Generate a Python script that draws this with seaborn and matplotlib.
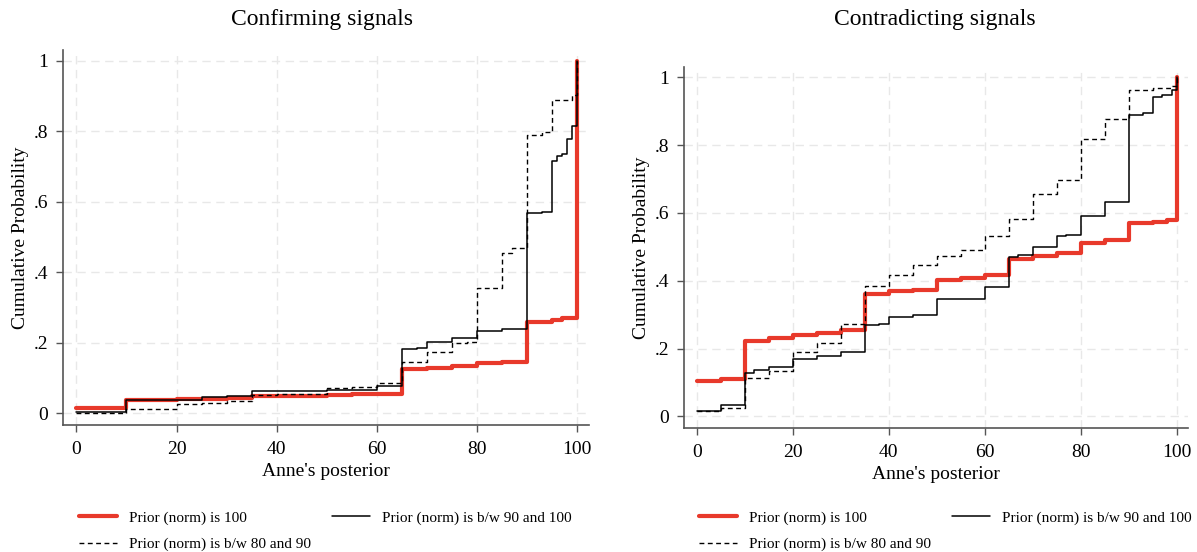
import matplotlib
matplotlib.use('Agg')
import matplotlib.pyplot as plt
import seaborn as sns
import numpy as np

# Confirming signals: step points (x where the ECDF jumps, level after the jump)
conf_x_100 = [0, 10, 20, 25, 30, 35, 50, 55, 65, 70, 75, 80, 85, 90, 95, 97, 100]
conf_y_100 = [0.016, 0.036, 0.039, 0.041, 0.043, 0.049, 0.052, 0.054, 0.124, 0.128,
              0.134, 0.141, 0.146, 0.259, 0.264, 0.269, 1.0]

conf_x_90 = [0, 10, 20, 25, 30, 35, 50, 60, 65, 68, 70, 75, 80, 85, 90, 93, 95, 96, 97, 98, 99, 100]
conf_y_90 = [0.003, 0.036, 0.038, 0.047, 0.050, 0.063, 0.067, 0.076, 0.183, 0.186, 0.203,
             0.213, 0.232, 0.240, 0.567, 0.572, 0.716, 0.730, 0.737, 0.778, 0.816, 1.0]

conf_x_80 = [0, 10, 20, 25, 30, 35, 40, 50, 55, 60, 65, 70, 75, 78, 80, 85, 87, 90, 93, 95, 99, 100]
conf_y_80 = [0.0, 0.013, 0.026, 0.030, 0.035, 0.052, 0.055, 0.071, 0.073, 0.085, 0.146,
             0.175, 0.200, 0.203, 0.354, 0.454, 0.470, 0.791, 0.797, 0.890, 0.903, 1.0]

# Contradicting signals
contr_x_100 = [0, 5, 10, 15, 20, 25, 30, 35, 40, 45, 50, 55, 60, 65, 70, 75, 80, 85, 90, 95, 98, 100]
contr_y_100 = [0.105, 0.111, 0.222, 0.231, 0.240, 0.246, 0.254, 0.360, 0.370, 0.374, 0.401,
               0.408, 0.417, 0.463, 0.473, 0.482, 0.510, 0.519, 0.571, 0.574, 0.578, 1.0]

contr_x_90 = [0, 5, 10, 12, 15, 20, 25, 30, 35, 38, 40, 45, 50, 60, 65, 67, 70, 75, 77, 80,
              85, 90, 93, 95, 97, 99, 100]
contr_y_90 = [0.017, 0.034, 0.128, 0.138, 0.146, 0.169, 0.179, 0.189, 0.269, 0.273, 0.293,
              0.298, 0.345, 0.383, 0.469, 0.475, 0.500, 0.532, 0.534, 0.591, 0.633, 0.889,
              0.894, 0.941, 0.948, 0.961, 1.0]

contr_x_80 = [0, 5, 10, 15, 20, 25, 30, 35, 40, 45, 50, 55, 60, 65, 70, 75, 80, 85, 90, 95, 99, 100]
contr_y_80 = [0.015, 0.025, 0.113, 0.133, 0.190, 0.215, 0.273, 0.384, 0.417, 0.446, 0.473,
              0.491, 0.531, 0.583, 0.655, 0.696, 0.817, 0.877, 0.963, 0.967, 0.975, 1.0]

titles = ["Confirming signals", "Contradicting signals"]
labels = ["Prior (norm) is 100", "Prior (norm) is b/w 90 and 100", "Prior (norm) is b/w 80 and 90"]
x_ticks = [0, 20, 40, 60, 80, 100]
y_ticks = [0, 0.2, 0.4, 0.6, 0.8, 1.0]
y_ticklabels = ["0", ".2", ".4", ".6", ".8", "1"]

sns.set_style("white")
plt.rcParams['font.family'] = ['Liberation Serif', 'DejaVu Serif']
plt.rcParams['text.color'] = 'black'
plt.rcParams['axes.labelcolor'] = 'black'

RED = '#e8392b'
AXC = '#555555'

fig = plt.figure(figsize=(11.97, 5.52), dpi=100)
ax1 = fig.add_axes([0.0529, 0.2292, 0.4394, 0.6803])
ax2 = fig.add_axes([0.5717, 0.2241, 0.4211, 0.6551])

panels = [
    (ax1, (conf_x_100, conf_y_100), (conf_x_90, conf_y_90), (conf_x_80, conf_y_80)),
    (ax2, (contr_x_100, contr_y_100), (contr_x_90, contr_y_90), (contr_x_80, contr_y_80)),
]
title_x = [322 / 1197, 935 / 1197]

for (ax, s100, s90, s80), title, tx in zip(panels, titles, title_x):
    ax.grid(True, color='#e8e8e8', linestyle=(0, (6, 4)), linewidth=1.0, zorder=0)
    ax.set_axisbelow(True)

    sns.lineplot(x=s100[0], y=s100[1], ax=ax, color=RED, linewidth=3.0,
                 drawstyle='steps-post', estimator=None, label=labels[0], zorder=2)
    sns.lineplot(x=s80[0], y=s80[1], ax=ax, color='black', linewidth=1.0,
                 linestyle=(0, (3.5, 2.5)), drawstyle='steps-post', estimator=None,
                 label=labels[2], zorder=3)
    sns.lineplot(x=s90[0], y=s90[1], ax=ax, color='black', linewidth=1.1,
                 drawstyle='steps-post', estimator=None, label=labels[1], zorder=4)

    ax.set_xlim(-2.6, 102.4)
    ax.set_ylim(-0.035, 1.031)
    ax.set_xticks(x_ticks)
    ax.set_xticklabels([str(t) for t in x_ticks])
    ax.set_yticks(y_ticks)
    ax.set_yticklabels(y_ticklabels)
    ax.tick_params(axis='both', direction='out', length=5, width=1, color=AXC,
                   labelsize=14, labelcolor='black', pad=6, left=True, bottom=True)

    for side in ['top', 'right']:
        ax.spines[side].set_visible(False)
    for side in ['left', 'bottom']:
        ax.spines[side].set_color(AXC)
        ax.spines[side].set_linewidth(1.2)

    ax.set_xlabel("Anne's posterior", fontsize=14, labelpad=4)
    ax.set_ylabel("Cumulative Probability", fontsize=14, labelpad=3)
    fig.text(tx, 1 - 20 / 552, title, fontsize=17, ha='center', va='center')

    handles, labs = ax.get_legend_handles_labels()
    order = [labs.index(labels[0]), labs.index(labels[2]), labs.index(labels[1])]
    leg_x = (78 - 5) / 1197 if ax is ax1 else (698 - 5) / 1197
    ax.legend([handles[i] for i in order], [labs[i] for i in order],
              loc='upper left', bbox_to_anchor=(leg_x, 1 - 505 / 552),
              bbox_transform=fig.transFigure, ncol=2, frameon=False,
              fontsize=11, handlelength=2.5, handletextpad=0.75, columnspacing=1.4,
              labelspacing=0.8, borderaxespad=0.0)

fig.savefig('out.png', dpi=100)
